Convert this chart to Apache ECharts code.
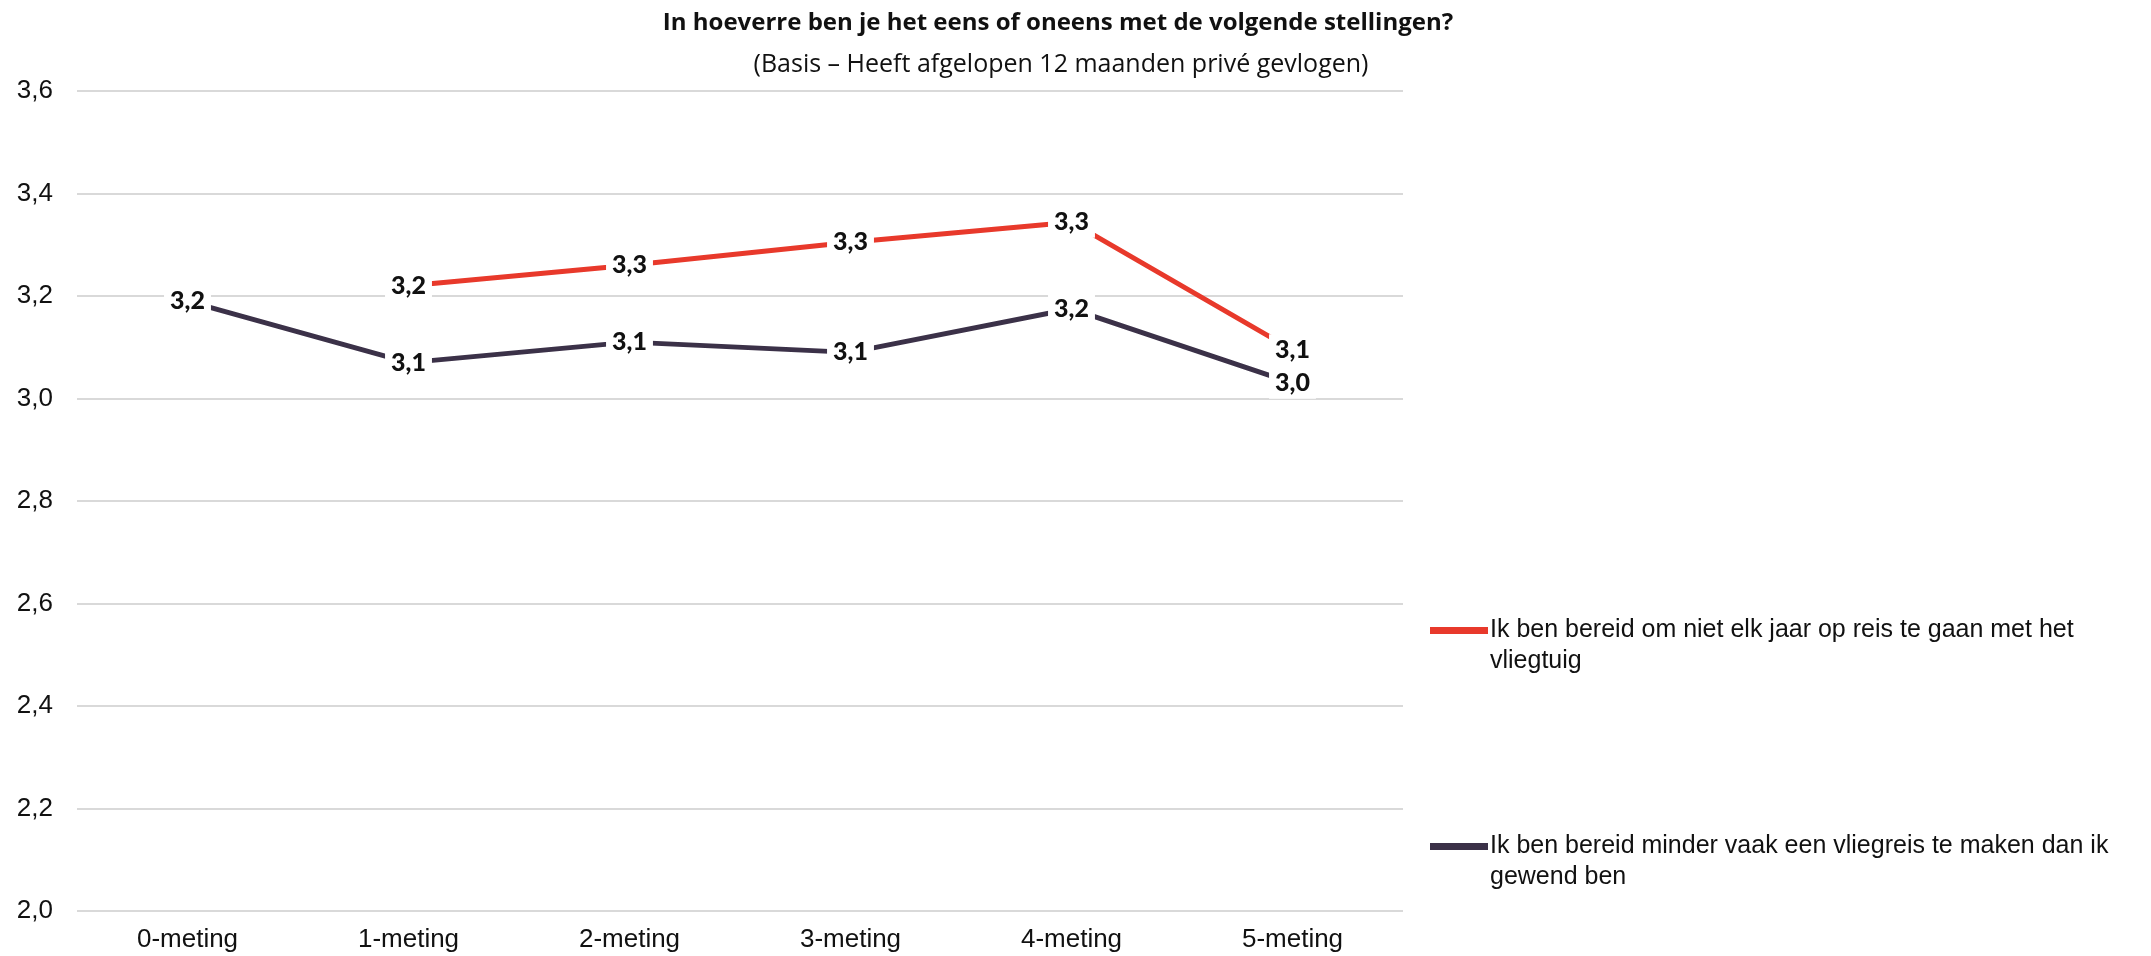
<!DOCTYPE html>
<html>
<head>
<meta charset="utf-8">
<title>Vliegen - stellingen</title>
<script src="https://cdn.jsdelivr.net/npm/echarts@6/dist/echarts.min.js"></script>
<style>
    html, body { margin: 0; padding: 0; background: #fff; }
    #chart { width: 2151px; height: 956px; }
</style>
</head>
<body>
<div id="chart"></div>
<script>
/* ===== Data ===== */
const categories = ["0-meting", "1-meting", "2-meting", "3-meting", "4-meting", "5-meting"];
const seriesNames = [
    "Ik ben bereid om niet elk jaar op reis te gaan met het\nvliegtuig",
    "Ik ben bereid minder vaak een vliegreis te maken dan ik\ngewend ben",
];
// 0-meting heeft geen waarde voor de eerste stelling
const valuesNietElkJaar = [null, 3.22, 3.26, 3.305, 3.344, 3.095];
const valuesMinderVaak = [3.19, 3.07, 3.11, 3.09, 3.175, 3.03];
const yTicks = { min: 2.0, max: 3.6, interval: 0.2 };

const RED = "#e8392b";
const DARK = "#3b3148";

/* ===== Helpers ===== */
const comma = v => v.toFixed(1).replace(".", ",");

// legend icon: bar in the top part so it lines up with the first text line
const legendIcon = "path://M0,0 L58,0 L58,7 L0,7 Z M0,38 L0.01,38 Z";

function lineSeries(name, data, color) {
    return {
        name: name,
        type: "line",
        data: data,
        symbol: "circle",
        symbolSize: 2,
        itemStyle: { color: color },
        lineStyle: { color: color, width: 5 },
        connectNulls: false,
        label: {
            show: true,
            position: "inside",
            formatter: p => comma(p.value),
            fontFamily: "Lato",
            fontWeight: 900,
            fontSize: 25,
            color: "#111",
            backgroundColor: "#fff",
            padding: [3, 6],
        },
        emphasis: { disabled: true },
    };
}

function legendAt(name, top) {
    return {
        data: [{ name: name, icon: legendIcon }],
        orient: "vertical",
        left: 1425,
        top: top,
        itemWidth: 58,
        itemHeight: 38,
        itemGap: 0,
        symbolKeepAspect: false,
        selectedMode: false,
        textStyle: {
            fontFamily: "Liberation Sans",
            fontSize: 25,
            lineHeight: 31,
            color: "#111",
            padding: [0, 0, 0, -3],
        },
    };
}

/* ===== Chart ===== */
const chart = echarts.init(document.getElementById("chart"));

chart.setOption({
    animation: false,
    backgroundColor: "#fff",
    title: [
        {
            text: "In hoeverre ben je het eens of oneens met de volgende stellingen?",
            left: 1053,
            top: 6,
            textAlign: "center",
            textStyle: { fontFamily: "Open Sans", fontWeight: "bold", fontSize: 24, color: "#111" },
        },
        {
            text: "(Basis \u2013 Heeft afgelopen 12 maanden priv\u00e9 gevlogen)",
            left: 1056,
            top: 47,
            textAlign: "center",
            textStyle: { fontFamily: "Open Sans", fontWeight: "normal", fontSize: 25, color: "#111" },
        },
    ],
    legend: [
        legendAt(seriesNames[0], 610),
        legendAt(seriesNames[1], 826),
    ],
    grid: { left: 77, top: 91, width: 1326, height: 820, containLabel: false },
    xAxis: {
        type: "category",
        data: categories,
        boundaryGap: true,
        axisLine: { show: false },
        axisTick: { show: false },
        axisLabel: {
            margin: 16,
            fontFamily: "Liberation Sans",
            fontSize: 26,
            color: "#111",
        },
    },
    yAxis: {
        type: "value",
        min: yTicks.min,
        max: yTicks.max,
        interval: yTicks.interval,
        axisLine: { show: false },
        axisTick: { show: false },
        splitLine: { lineStyle: { color: "#d9d9d9", width: 2 } },
        axisLabel: {
            margin: 24,
            formatter: v => comma(v),
            fontFamily: "Liberation Sans",
            fontSize: 26,
            color: "#111",
        },
    },
    series: [
        lineSeries(seriesNames[0], valuesNietElkJaar, RED),
        lineSeries(seriesNames[1], valuesMinderVaak, DARK),
    ],
});
</script>
</body>
</html>
